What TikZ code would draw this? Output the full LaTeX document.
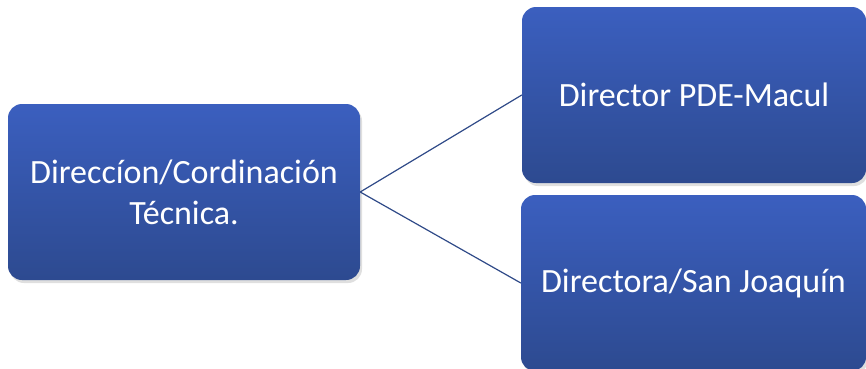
\documentclass[tikz,border=0pt]{standalone}
\usepackage{fontspec}
\setmainfont{Carlito}
\usepackage{xcolor}
\usetikzlibrary{shadows, positioning}
\definecolor{boxtop}{HTML}{3B5FBF}
\definecolor{boxbot}{HTML}{2D4A90}
\definecolor{linkblue}{HTML}{2F4A88}
\tikzset{
    orgbox/.style={rectangle, rounded corners=14pt, top color=boxtop, bottom color=boxbot, draw=none, text=white, align=center, font=\fontsize{34}{41}\selectfont, drop shadow={shadow xshift=2pt, shadow yshift=-3pt, opacity=0.25}},
    link/.style={draw=linkblue, line width=1.2pt},
}
\begin{document}
\begin{tikzpicture}[x=1pt, y=1pt]
    \useasboundingbox (0,0) rectangle (866,368);

    % === BOXES ===
    \node[orgbox, minimum width=352pt, minimum height=176pt] (coord) at (184,176) {Direcc\'{\i}on/Cordinaci\'on\\T\'ecnica.};
    \node[orgbox, minimum width=344pt, minimum height=176pt] (macul) at (694,273) {Director PDE-Macul};
    \node[orgbox, minimum width=345pt, minimum height=176pt] (sanjoa) at (693.5,85) {Directora/San Joaqu\'{\i}n};

    % === LINKS ===
    \draw[link] (coord.east) -- (macul.west);
    \draw[link] (coord.east) -- (sanjoa.west);

\end{tikzpicture}
\end{document}
